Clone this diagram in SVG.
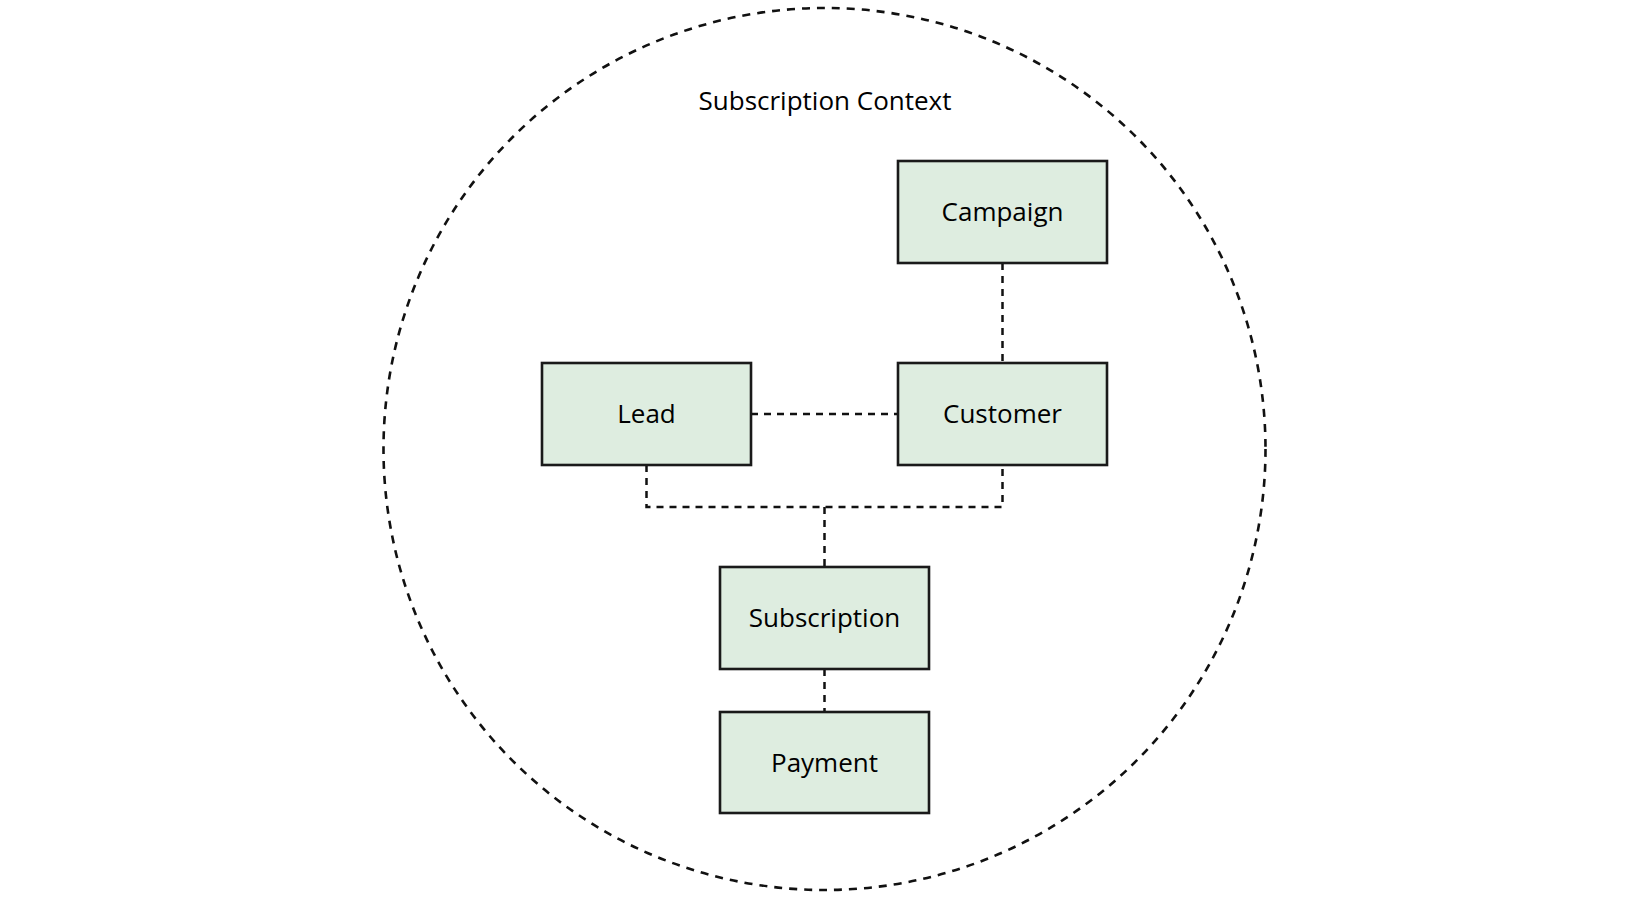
<svg xmlns="http://www.w3.org/2000/svg" width="1650" height="898" viewBox="0 0 1650 898">
  <style>
    .box { fill: #deede0; stroke: #1a1a1a; stroke-width: 2.6; }
    .lbl { font-family: "Open Sans", "Noto Sans", sans-serif; font-size: 26px; fill: #000; text-anchor: middle; }
    .conn { fill: none; stroke: #111; stroke-width: 2.5; stroke-dasharray: 7 6; }
    .ctx { fill: none; stroke: #111; stroke-width: 2.6; stroke-dasharray: 8 7; }
  </style>
  <rect width="1650" height="898" fill="#ffffff"/>
  <g id="context">
    <circle class="ctx" cx="824.5" cy="449" r="441"/>
    <text class="lbl" x="825" y="110">Subscription Context</text>
  </g>
  <g id="connectors">
    <path class="conn" d="M1002.5 263 V363"/>
    <path class="conn" d="M751 414 H898"/>
    <path class="conn" d="M646.5 465 V507 H1002.5 V465"/>
    <path class="conn" d="M824.5 507 V567"/>
    <path class="conn" d="M824.5 669 V712"/>
  </g>
  <g id="campaign">
    <rect class="box" x="898" y="161" width="209" height="102"/>
    <text class="lbl" x="1002.5" y="221">Campaign</text>
  </g>
  <g id="lead">
    <rect class="box" x="542" y="363" width="209" height="102"/>
    <text class="lbl" x="646.5" y="423">Lead</text>
  </g>
  <g id="customer">
    <rect class="box" x="898" y="363" width="209" height="102"/>
    <text class="lbl" x="1002.5" y="423">Customer</text>
  </g>
  <g id="subscription">
    <rect class="box" x="720" y="567" width="209" height="102"/>
    <text class="lbl" x="824.5" y="627">Subscription</text>
  </g>
  <g id="payment">
    <rect class="box" x="720" y="712" width="209" height="101"/>
    <text class="lbl" x="824.5" y="772">Payment</text>
  </g>
</svg>
